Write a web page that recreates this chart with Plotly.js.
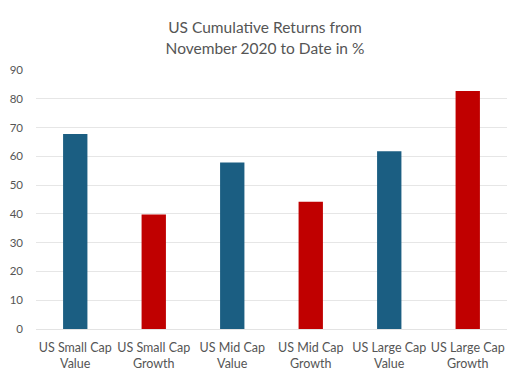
<!DOCTYPE html>
<html><head><meta charset="utf-8">
<script src="https://cdn.plot.ly/plotly-3.0.1.min.js"></script>
<style>html,body{margin:0;padding:0;background:#fff}#c{width:530px;height:380px}</style>
</head><body><div id="c"></div>
<script>
const categories = ["US Small Cap<br>Value","US Small Cap<br>Growth","US Mid Cap<br>Value","US Mid Cap<br>Growth","US Large Cap<br>Value","US Large Cap<br>Growth"];
const values = [67.8, 39.8, 57.9, 44.2, 61.8, 82.7];
const colors = ["#1b5e82","#c00000","#1b5e82","#c00000","#1b5e82","#c00000"];
const yTicks = [0,10,20,30,40,50,60,70,80,90];
Plotly.newPlot('c', [{
  type:'bar', x:categories, y:values, marker:{color:colors, line:{width:0}}, hoverinfo:'none'
}], {
  width:530, height:380,
  margin:{l:36, r:23, t:70, b:51},
  paper_bgcolor:'#fff', plot_bgcolor:'#fff',
  bargap:0.69,
  showlegend:false,
  font:{family:'Lato, "Open Sans", sans-serif', color:'#555'},
  title:{text:'US Cumulative Returns from<br>November 2020 to Date in %', x:0.5, xanchor:'center', yref:'container', y:0.912, yanchor:'middle', font:{size:15.5, color:'#555', family:'Lato, sans-serif'}},
  xaxis:{tickfont:{size:12.5, color:'#555'}, showline:true, linecolor:'#e3e3e3', ticks:'', ticklabelstandoff:7, fixedrange:true},
  yaxis:{range:[0,90], tickvals:yTicks, ticktext:yTicks.map(String), tickfont:{size:11.5, color:'#555'}, gridcolor:'#e6e6e6', gridwidth:1, zeroline:false, ticks:'', ticklen:0, ticklabelstandoff:12, fixedrange:true}
}, {staticPlot:true});
</script></body></html>
